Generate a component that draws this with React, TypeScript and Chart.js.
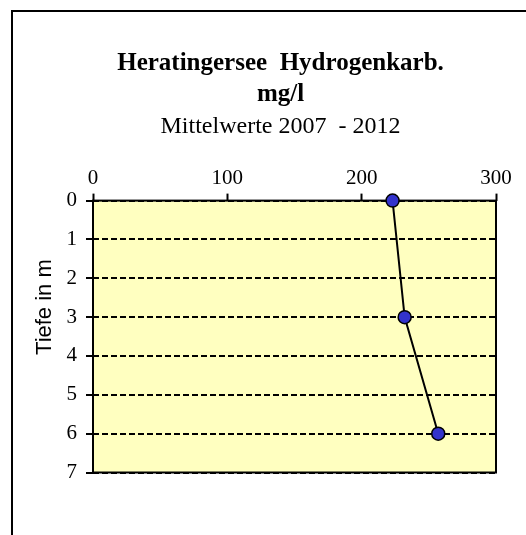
import React, { useEffect, useRef } from "react";
import { Chart, registerables } from "chart.js";

Chart.register(...registerables);

const titleLines = ["Heratingersee  Hydrogenkarb.", "mg/l"];
const subtitleText = "Mittelwerte 2007  - 2012";
const yAxisTitle = "Tiefe in m";
const depths = [0, 3, 6];
const values = [223, 232, 257];
const xTicks = [0, 100, 200, 300];
const yTicks = [0, 1, 2, 3, 4, 5, 6, 7];

const SERIF = '"Liberation Serif", "Times New Roman", serif';
const SANS = '"Liberation Sans", Arial, sans-serif';

const framePlugin = {
  id: "frame",
  beforeDraw(chart: any) {
    const { ctx, chartArea } = chart;
    ctx.save();
    ctx.fillStyle = "#FFFFC0";
    ctx.fillRect(chartArea.left, chartArea.top, chartArea.right - chartArea.left, chartArea.bottom - chartArea.top);
    ctx.restore();
  },
  beforeDatasetsDraw(chart: any) {
    const { ctx, chartArea } = chart;
    ctx.save();
    ctx.strokeStyle = "#000";
    ctx.lineWidth = 2;
    ctx.strokeRect(chartArea.left, chartArea.top, chartArea.right - chartArea.left, chartArea.bottom - chartArea.top);
    ctx.restore();
  },
  afterDraw(chart: any) {
    const { ctx, chartArea } = chart;
    ctx.save();
    // outer frame (top and left edges)
    ctx.fillStyle = "#000";
    ctx.fillRect(11, 10, chart.width - 11, 2);
    ctx.fillRect(11, 10, 2, chart.height - 10);
    // y axis title
    ctx.translate(chartArea.left - 48, chartArea.top + 106.5);
    ctx.rotate(-Math.PI / 2);
    ctx.font = `22px ${SANS}`;
    ctx.textAlign = "center";
    ctx.textBaseline = "middle";
    ctx.fillStyle = "#000";
    ctx.fillText(yAxisTitle, 0, 0);
    ctx.restore();
  },
};

export default function App() {
  const ref = useRef<HTMLCanvasElement>(null);
  useEffect(() => {
    if (!ref.current) return;
    const chart = new Chart(ref.current, {
      type: "scatter",
      data: {
        datasets: [
          {
            data: depths.map((d, i) => ({ x: values[i], y: d })),
            showLine: true,
            borderColor: "#000",
            borderWidth: 2,
            pointRadius: 6.5,
            pointHoverRadius: 6.5,
            pointBackgroundColor: "#3333CC",
            pointBorderColor: "#000",
            pointBorderWidth: 1.5,
            clip: false,
          } as any,
        ],
      },
      plugins: [framePlugin],
      options: {
        animation: false,
        responsive: false,
        maintainAspectRatio: false,
        events: [],
        layout: { padding: { left: 65, right: 30, top: 38, bottom: 62.5 } },
        plugins: {
          legend: { display: false },
          tooltip: { enabled: false },
          title: {
            display: true,
            text: titleLines,
            color: "#000",
            font: { family: SERIF, size: 25, weight: "bold", lineHeight: 1.25 },
            padding: { top: 10, bottom: 2 },
          },
          subtitle: {
            display: true,
            text: subtitleText,
            color: "#000",
            font: { family: SERIF, size: 24, weight: "normal", lineHeight: 1.15 },
            padding: { top: 0, bottom: 0 },
          },
        },
        scales: {
          x: {
            type: "linear",
            position: "top",
            min: xTicks[0],
            max: xTicks[xTicks.length - 1],
            afterBuildTicks: (s: any) => {
              s.ticks = xTicks.map((v) => ({ value: v }));
            },
            afterFit: (s: any) => {
              s.height = 60.5;
            },
            ticks: {
              color: "#000",
              font: { family: SERIF, size: 21 },
              padding: 3,
              maxRotation: 0,
            },
            grid: {
              drawOnChartArea: false,
              drawTicks: true,
              tickLength: 7,
              tickColor: "#000",
              tickWidth: 2,
            },
            border: { display: false },
          },
          y: {
            type: "linear",
            reverse: true,
            min: yTicks[0],
            max: yTicks[yTicks.length - 1],
            afterBuildTicks: (s: any) => {
              s.ticks = yTicks.map((v) => ({ value: v }));
            },
            afterFit: (s: any) => {
              s.width = 28;
            },
            ticks: {
              color: "#000",
              font: { family: SERIF, size: 21 },
              padding: 9,
            },
            grid: {
              drawOnChartArea: true,
              color: "#000",
              lineWidth: 2,
              drawTicks: true,
              tickLength: 7,
              tickColor: "#000",
              tickWidth: 2,
            },
            border: { display: false, dash: [6, 3] },
          },
        },
      } as any,
    });
    return () => chart.destroy();
  }, []);
  return (
    <div style={{ position: "fixed", left: 0, top: 0, width: 526, height: 535, background: "#fff" }}>
      <canvas ref={ref} width={526} height={535} style={{ display: "block", width: 526, height: 535 }} />
    </div>
  );
}
